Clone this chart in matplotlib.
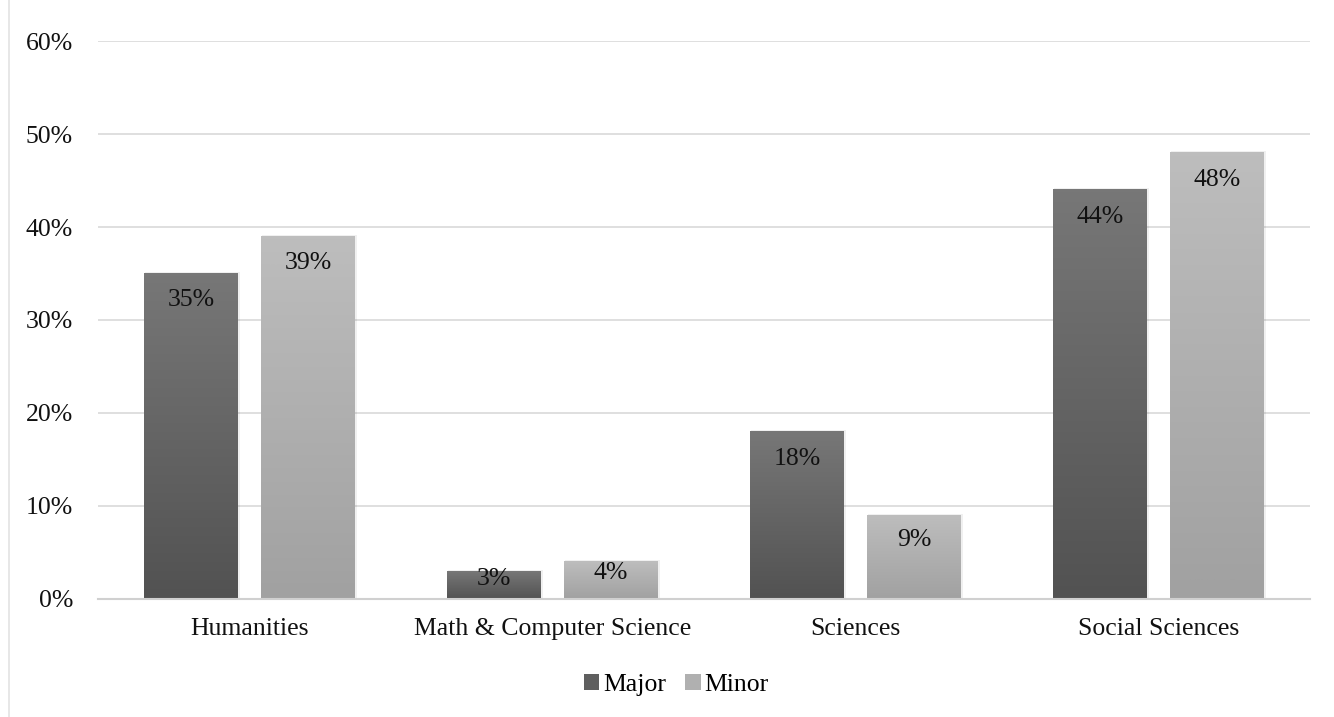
import numpy as np
import matplotlib
matplotlib.use("Agg")
import matplotlib.pyplot as plt
from matplotlib.colors import LinearSegmentedColormap
from matplotlib.lines import Line2D
from matplotlib.patches import Patch

# data
categories = ["Humanities", "Math & Computer Science", "Sciences", "Social Sciences"]
major = [0.35, 0.03, 0.18, 0.44]
minor = [0.39, 0.04, 0.09, 0.48]
series_names = ["Major", "Minor"]

plt.rcParams["font.family"] = ["Liberation Serif", "DejaVu Serif"]

fig = plt.figure(figsize=(13.34, 7.17), dpi=100)
ax = fig.add_axes([0.0735, 0.1646, 0.9085, 0.7782])

x = np.arange(len(categories))
width = 0.31
off = 0.193
FS = 18.5

# gradient colours (top, bottom)
grad = {
    "Major": ("#777777", "#525252"),
    "Minor": ("#bdbdbd", "#a1a1a1"),
}

for vals, name, sign in [(major, "Major", -1), (minor, "Minor", 1)]:
    top_c, bot_c = grad[name]
    cmap = LinearSegmentedColormap.from_list(name, [bot_c, top_c])
    bars = ax.bar(x + sign * off, vals, width, color="none", zorder=3)
    for b, v in zip(bars, vals):
        x0 = b.get_x()
        x1 = x0 + b.get_width()
        # soft shadow
        ax.add_patch(plt.Rectangle((x0 + 0.003, 0), b.get_width() + 0.004, v + 0.0015,
                                   color="#000000", alpha=0.06, lw=0, zorder=2))
        g = np.linspace(0, 1, 100).reshape(-1, 1)
        ax.imshow(g, cmap=cmap, origin="lower", aspect="auto",
                  extent=(x0, x1, 0, v), zorder=3, interpolation="bicubic")
        ypos = max(v - 0.029, v * 0.7)
        ax.text(b.get_x() + b.get_width() / 2, ypos, f"{v*100:.0f}%",
                ha="center", va="center", fontsize=FS, color="#111111", zorder=4)

ax.set_xlim(-0.5, 3.5)
ax.set_ylim(0, 0.6)
ax.set_yticks(np.arange(0, 0.61, 0.1))
ax.set_yticklabels([f"{t*100:.0f}%" for t in np.arange(0, 0.61, 0.1)])
ax.set_xticks(x)
ax.set_xticklabels(categories)
ax.tick_params(axis="both", length=0, labelsize=FS, colors="#111111")
ax.tick_params(axis="x", pad=14)
ax.tick_params(axis="y", pad=18)
ax.grid(axis="y", color="#d9d9d9", lw=1.2, zorder=0)
ax.set_axisbelow(True)
for s in ["top", "right", "left"]:
    ax.spines[s].set_visible(False)
ax.spines["bottom"].set_color("#d0d0d0")
ax.spines["bottom"].set_linewidth(1.5)
ax.spines["bottom"].set_zorder(5)

handles = [Patch(facecolor="#5f5f5f", label="Major"),
           Patch(facecolor="#b0b0b0", label="Minor")]
fig.legend(handles=handles, loc="center", bbox_to_anchor=(0.507, 0.045), ncol=2,
           frameon=False, fontsize=FS, handlelength=0.6, handleheight=0.6,
           handletextpad=0.15, columnspacing=0.75)

# chart border on the left
fig.add_artist(Line2D([0.007, 0.007], [0, 1], color="#e3e3e3", lw=1.2))

fig.savefig("out.png", dpi=100)
